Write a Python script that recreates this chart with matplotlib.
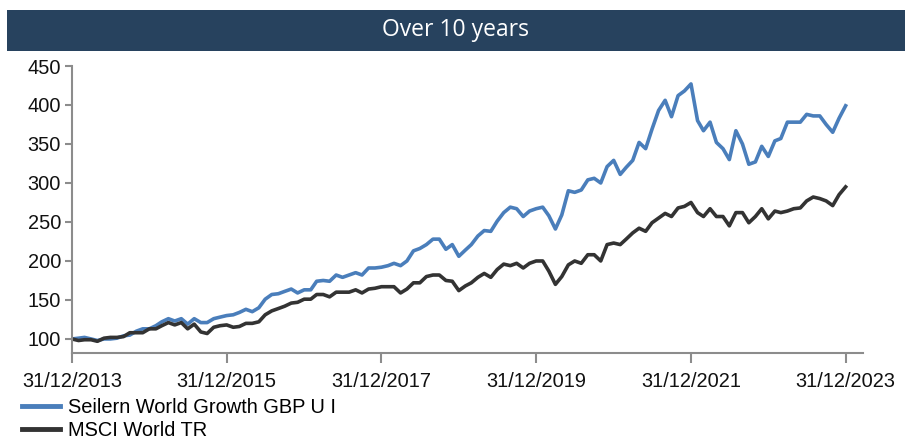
import matplotlib
matplotlib.use("Agg")
import matplotlib.pyplot as plt
from matplotlib.patches import Rectangle
import pandas as pd

dates = pd.date_range("2013-12-31", "2023-12-31", freq="ME")

fund_label = "Seilern World Growth GBP U I"
bench_label = "MSCI World TR"

fund = [100, 101, 102, 100, 98, 100, 100, 101, 104, 105, 110, 113,
        113, 117, 122, 126, 123, 126, 119, 126, 121, 121, 126, 128,
        130, 131, 134, 138, 135, 140, 151, 157, 158, 161, 164, 159,
        163, 163, 174, 175, 174, 182, 179, 182, 185, 182, 191, 191,
        192, 194, 197, 194, 200, 213, 216, 221, 228, 228, 215, 221,
        206, 214, 221, 232, 239, 238, 251, 262, 269, 267, 257, 264,
        267, 269, 258, 241, 259, 290, 288, 291, 304, 306, 300, 321,
        329, 311, 320, 329, 352, 344, 369, 393, 406, 385, 412, 418,
        427, 380, 367, 378, 352, 344, 330, 367, 350, 324, 327, 347,
        334, 354, 357, 378, 378, 378, 388, 386, 386, 375, 365, 383,
        399]

bench = [100, 98, 99, 99, 97, 101, 102, 102, 103, 108, 108, 108,
         113, 113, 117, 121, 118, 121, 113, 119, 109, 107, 115, 117,
         118, 115, 116, 120, 120, 122, 131, 136, 139, 142, 146, 147,
         151, 151, 157, 157, 154, 160, 160, 160, 163, 159, 164, 165,
         167, 167, 167, 159, 164, 172, 172, 180, 182, 182, 175, 174,
         162, 168, 172, 179, 184, 179, 189, 196, 194, 197, 191, 197,
         200, 200, 187, 170, 180, 195, 200, 197, 208, 208, 200, 221,
         223, 221, 228, 236, 242, 238, 249, 255, 261, 257, 268, 270,
         275, 262, 257, 267, 257, 257, 245, 262, 262, 249, 257, 267,
         254, 264, 262, 264, 267, 268, 277, 282, 280, 277, 271, 285,
         295]

yticks = [100, 150, 200, 250, 300, 350, 400, 450]
xtick_dates = pd.to_datetime(["2013-12-31", "2015-12-31", "2017-12-31",
                              "2019-12-31", "2021-12-31", "2023-12-31"])
xtick_labels = ["31/12/2013", "31/12/2015", "31/12/2017",
                "31/12/2019", "31/12/2021", "31/12/2023"]
title = "Over 10 years"

plt.rcParams['font.family'] = ['Liberation Sans', 'DejaVu Sans']

W, H = 910, 441
fig = plt.figure(figsize=(W / 100, H / 100), dpi=100)

# header bar
fig.patches.append(Rectangle((7 / W, 1 - 51 / H), (905 - 7) / W, 41 / H,
                             transform=fig.transFigure, facecolor="#27425E",
                             edgecolor="none", zorder=0))
fig.text(455 / W, 1 - 30 / H, title, color="white", fontsize=16.5,
         family=["Open Sans", "DejaVu Sans"], ha="center", va="center")

ax = fig.add_axes([72 / W, 1 - 353 / H, (863 - 72) / W, (353 - 66) / H])
l1, = ax.plot(dates, fund, color="#4A7EBB", lw=2.6, solid_joinstyle="round",
              label=fund_label)
l2, = ax.plot(dates, bench, color="#333333", lw=2.6, solid_joinstyle="round",
              label=bench_label)

ax.set_ylim(82, 450)
ax.set_xlim(pd.Timestamp("2013-12-31"), pd.Timestamp("2024-03-22"))
ax.set_yticks(yticks)
ax.set_yticklabels([str(v) for v in yticks])
ax.set_xticks(xtick_dates)
ax.set_xticklabels(xtick_labels)

for s in ["top", "right"]:
    ax.spines[s].set_visible(False)
for s in ["left", "bottom"]:
    ax.spines[s].set_color("#8C8C8C")
    ax.spines[s].set_linewidth(1.5)
ax.tick_params(axis="both", direction="out", colors="#8C8C8C", width=1.5,
               length=5, labelcolor="#111111", labelsize=14.4)
ax.tick_params(axis="y", pad=3)
ax.tick_params(axis="x", length=7, pad=7)

fig.legend(handles=[l1, l2], loc="upper left",
           bbox_to_anchor=(22 / W, 1 - 398 / H), frameon=False,
           fontsize=14.4, handlelength=1.9, handletextpad=0.4,
           labelspacing=0.18, borderpad=0, borderaxespad=0)
for line in fig.legends[0].get_lines():
    line.set_linewidth(3.5)

fig.savefig("out.png", dpi=100)
